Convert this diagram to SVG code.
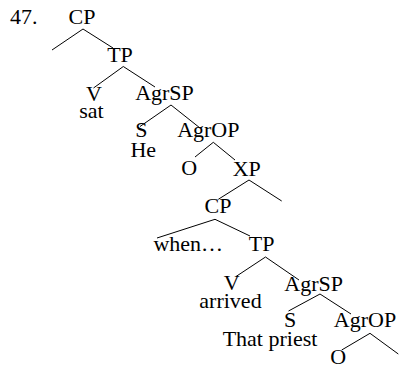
<svg xmlns="http://www.w3.org/2000/svg" width="399" height="368" viewBox="0 0 399 368">
  <style>
    text { font-family: "Liberation Serif", "Times New Roman", serif; font-size: 22px; fill: #000; text-anchor: middle; }
    .edges line { stroke: #000; stroke-width: 1; fill: none; }
  </style>
  <rect width="399" height="368" fill="#fff"/>
  <text x="10" y="24" style="text-anchor:start">47.</text>

  <g id="edges" class="edges">
    <line x1="83" y1="29" x2="52" y2="50"/>
    <line x1="83" y1="29" x2="113" y2="48"/>
    <line x1="123.3" y1="66.5" x2="93.5" y2="88"/>
    <line x1="123.3" y1="66.5" x2="155" y2="87"/>
    <line x1="171" y1="105" x2="140" y2="126.5"/>
    <line x1="171" y1="105" x2="200" y2="128"/>
    <line x1="213.3" y1="142.3" x2="195" y2="157"/>
    <line x1="213.3" y1="142.3" x2="235" y2="160"/>
    <line x1="249" y1="180" x2="218.3" y2="199.3"/>
    <line x1="249" y1="180" x2="281.7" y2="201"/>
    <line x1="215" y1="219.3" x2="157" y2="238"/>
    <line x1="215" y1="219.3" x2="250" y2="236"/>
    <line x1="265.5" y1="257" x2="236" y2="276.5"/>
    <line x1="265.5" y1="257" x2="299" y2="280"/>
    <line x1="320" y1="294" x2="288.5" y2="311"/>
    <line x1="320" y1="294" x2="351" y2="314"/>
    <line x1="370" y1="333.3" x2="341.7" y2="350"/>
    <line x1="370" y1="333.3" x2="398.3" y2="354"/>
  </g>

  <g id="cp1"><text x="82" y="24">CP</text></g>
  <g id="tp1"><text x="120" y="62">TP</text></g>
  <g id="v1"><text x="94" y="100.5">V</text><text x="91.5" y="118">sat</text></g>
  <g id="agrsp1"><text x="164.5" y="100">AgrSP</text></g>
  <g id="s1"><text x="141.3" y="137">S</text><text x="143.3" y="157">He</text></g>
  <g id="agrop1"><text x="208.3" y="137.3">AgrOP</text></g>
  <g id="o1"><text x="189.2" y="175">O</text></g>
  <g id="xp"><text x="246.7" y="175.7">XP</text></g>
  <g id="cp2"><text x="218" y="213.3">CP</text></g>
  <g id="when"><text x="188.3" y="251">when…</text></g>
  <g id="tp2"><text x="261.7" y="251">TP</text></g>
  <g id="v2"><text x="231.7" y="290">V</text><text x="230.5" y="308.3">arrived</text></g>
  <g id="agrsp2"><text x="313.7" y="290.5">AgrSP</text></g>
  <g id="s2"><text x="290" y="326.7">S</text><text x="270" y="345.7">That priest</text></g>
  <g id="agrop2"><text x="365" y="326.7">AgrOP</text></g>
  <g id="o2"><text x="338.3" y="364">O</text></g>
</svg>
